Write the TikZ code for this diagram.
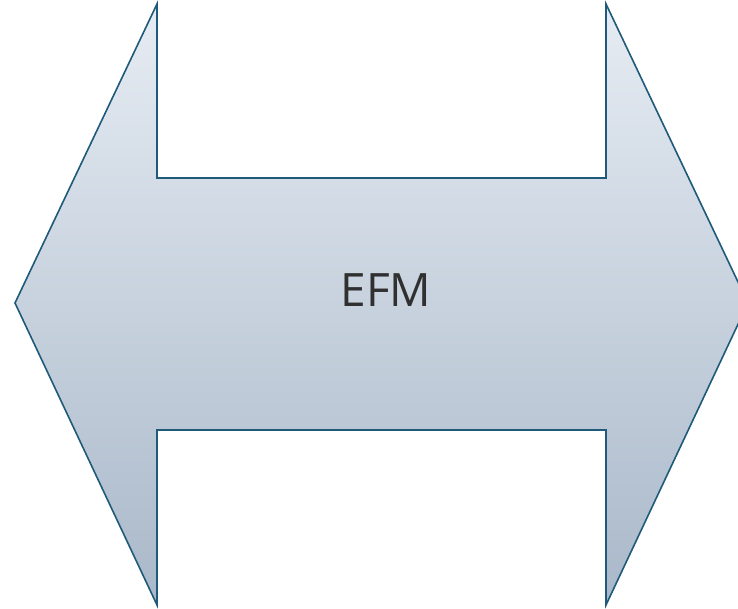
\documentclass[tikz,border=0pt]{standalone}
\usepackage{fontspec}
\setmainfont{Open Sans}
\definecolor{edgec}{HTML}{1F5A7A}
\definecolor{topc}{HTML}{E6ECF3}
\definecolor{botc}{HTML}{A9B8C9}
\definecolor{txtc}{HTML}{303030}
\begin{document}
\begin{tikzpicture}[x=1pt,y=1pt,
  arrowshape/.style={draw=edgec,line width=1.6pt,line join=miter,top color=topc,bottom color=botc}]
\useasboundingbox (0,0) rectangle (738,609);
\clip (0,0) rectangle (738,609);
\path[arrowshape] (15,306) -- (157,605) -- (157,431) -- (606,431) -- (606,605) -- (748,306)
  -- (606,4) -- (606,179) -- (157,179) -- (157,4) -- cycle;
\node[text=txtc,font=\fontsize{46}{50}\selectfont,anchor=base] (label) at (386,302) {EFM};
\end{tikzpicture}
\end{document}
